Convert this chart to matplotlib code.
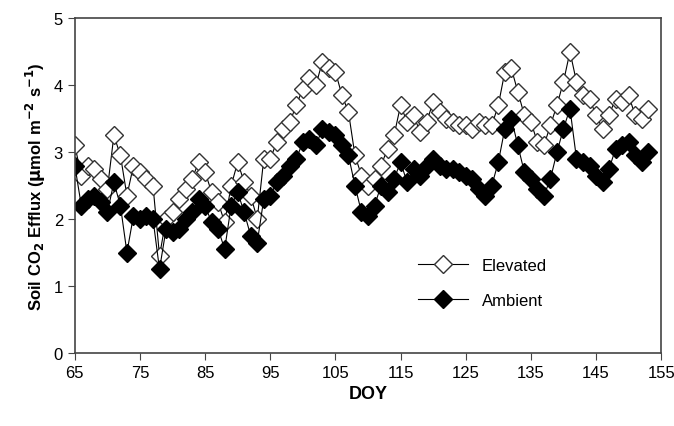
import numpy as np
import matplotlib.pyplot as plt

plt.rcParams['font.family'] = ['Liberation Sans', 'DejaVu Sans']

doy = list(range(65, 154))

elevated = [3.10, 2.65, 2.80, 2.75, 2.60, 2.45, 3.25, 2.95, 2.35, 2.80,
            2.70, 2.60, 2.50, 1.45, 2.00, 2.10, 2.30, 2.45, 2.60, 2.85,
            2.70, 2.40, 2.25, 1.95, 2.50, 2.85, 2.55, 2.35, 2.00, 2.90,
            2.90, 3.15, 3.35, 3.45, 3.70, 3.95, 4.10, 4.00, 4.35, 4.25,
            4.20, 3.85, 3.60, 2.95, 2.65, 2.50, 2.60, 2.80, 3.05, 3.25,
            3.70, 3.45, 3.55, 3.30, 3.45, 3.75, 3.60, 3.50, 3.45, 3.40,
            3.40, 3.35, 3.45, 3.40, 3.40, 3.70, 4.20, 4.25, 3.90, 3.55,
            3.45, 3.15, 3.10, 3.40, 3.70, 4.05, 4.50, 4.05, 3.85, 3.80,
            3.55, 3.35, 3.55, 3.80, 3.75, 3.85, 3.55, 3.50, 3.65]

ambient = [2.80, 2.20, 2.30, 2.35, 2.25, 2.10, 2.55, 2.20, 1.50, 2.05,
           2.00, 2.05, 2.00, 1.25, 1.85, 1.80, 1.85, 2.00, 2.10, 2.30,
           2.20, 1.95, 1.85, 1.55, 2.20, 2.40, 2.10, 1.75, 1.65, 2.30,
           2.35, 2.55, 2.65, 2.80, 2.90, 3.15, 3.20, 3.10, 3.35, 3.30,
           3.25, 3.10, 2.95, 2.50, 2.10, 2.05, 2.20, 2.50, 2.40, 2.60,
           2.85, 2.55, 2.75, 2.65, 2.80, 2.90, 2.80, 2.75, 2.75, 2.70,
           2.65, 2.60, 2.45, 2.35, 2.50, 2.85, 3.35, 3.50, 3.10, 2.70,
           2.60, 2.45, 2.35, 2.60, 3.00, 3.35, 3.65, 2.90, 2.85, 2.80,
           2.65, 2.55, 2.75, 3.05, 3.10, 3.15, 2.95, 2.85, 3.00]

xticks = list(range(65, 156, 10))

fig = plt.figure(figsize=(6.74, 4.27), dpi=100)
ax = fig.add_axes([0.111, 0.171, 0.870, 0.784])

ax.plot(doy, elevated, color='black', lw=0.8, marker='D', ms=9.5,
        mfc='white', mec='#333333', mew=1.0, label='Elevated')
ax.plot(doy, ambient, color='black', lw=0.8, marker='D', ms=9.5,
        mfc='black', mec='black', mew=1.0, label='Ambient')

ax.set_xlim(65, 155)
ax.set_ylim(0, 5)
ax.set_xticks(xticks)
ax.set_yticks(range(0, 6))
ax.tick_params(labelsize=12, direction='out', length=5, color='#444444')
for s in ax.spines.values():
    s.set_color('#444444')
    s.set_linewidth(1.2)

ax.set_xlabel('DOY', fontsize=13, fontweight='bold')
ax.set_ylabel(r'Soil CO$_\mathbf{2}$ Efflux ($\mathbf{\mu}$mol m$^{\mathbf{-2}}$ s$^{\mathbf{-1}}$)',
              fontsize=12, fontweight='bold')

ax.legend(loc='upper left', bbox_to_anchor=(0.56, 0.33), frameon=False,
          fontsize=12, handlelength=3, labelspacing=1.2)

fig.savefig('out.png', dpi=100)
